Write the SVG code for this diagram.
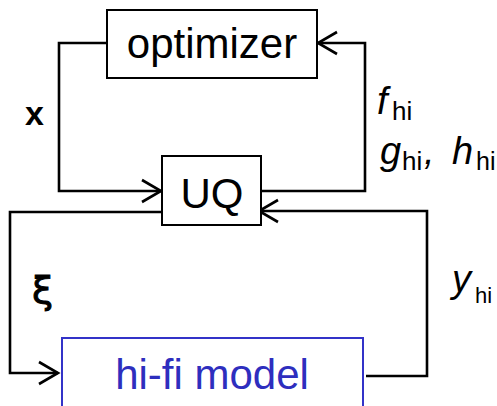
<svg xmlns="http://www.w3.org/2000/svg" width="497" height="406" viewBox="0 0 497 406">
<style>
.box{fill:#fff;stroke:#000;stroke-width:2}
.blue{fill:#fff;stroke:#3333c8;stroke-width:2}
.lbl{font-family:"Liberation Sans",Arial,sans-serif;font-size:42px;fill:#000}
.conn{fill:none;stroke:#000;stroke-width:2.6}
.it{font-family:"Liberation Sans",Arial,sans-serif;font-style:italic;fill:#000}
.sub{font-family:"Liberation Sans",Arial,sans-serif;fill:#000}
</style>
<defs>
<marker id="arr" markerUnits="userSpaceOnUse" markerWidth="30" markerHeight="30" viewBox="-25 -15 30 30" refX="0" refY="0" orient="auto" overflow="visible">
<path d="M-19,-11 L0,0 L-19,11" fill="none" stroke="#000" stroke-width="2.6"/>
</marker>
</defs>
<g id="connectors">
<path class="conn" d="M107,43 H59 V191 H161" marker-end="url(#arr)"/>
<path class="conn" d="M261,191 H365 V43 H318" marker-end="url(#arr)"/>
<path class="conn" d="M162,212 H10 V373 H58" marker-end="url(#arr)"/>
<path class="conn" d="M366,376 H427 V211 H259" marker-end="url(#arr)"/>
</g>
<g id="optimizer">
<rect class="box" x="107" y="10" width="210" height="68"/>
<text class="lbl" x="212" y="58" text-anchor="middle">optimizer</text>
</g>
<g id="UQ">
<rect class="box" x="162" y="156" width="99" height="69"/>
<text class="lbl" x="212" y="208" text-anchor="middle">UQ</text>
</g>
<g id="hifi">
<rect class="blue" x="62" y="338" width="301" height="80"/>
<text class="lbl" x="212" y="389" text-anchor="middle" style="fill:#2e2ebe">hi-fi model</text>
</g>
<g id="labels">
<text x="25" y="125" style="font-family:'Liberation Sans',Arial,sans-serif;font-weight:bold;font-size:34px">x</text>
<text x="32" y="303" style="font-family:'DejaVu Sans',sans-serif;font-size:38px;stroke:#000;stroke-width:1">ξ</text>
<text><tspan class="it" font-size="38" x="377" y="114">f</tspan><tspan class="sub" font-size="26" x="392" y="120">hi</tspan></text>
<text><tspan class="it" font-size="38" x="380" y="164">g</tspan><tspan class="sub" font-size="26" x="402" y="170">hi</tspan><tspan class="it" font-size="38" x="424" y="164">,</tspan><tspan class="it" font-size="38" x="452" y="164">h</tspan><tspan class="sub" font-size="25" x="476" y="170">hi</tspan></text>
<text><tspan class="it" font-size="38" x="452" y="292">y</tspan><tspan class="sub" font-size="22" x="475" y="303">hi</tspan></text>
</g>
</svg>
